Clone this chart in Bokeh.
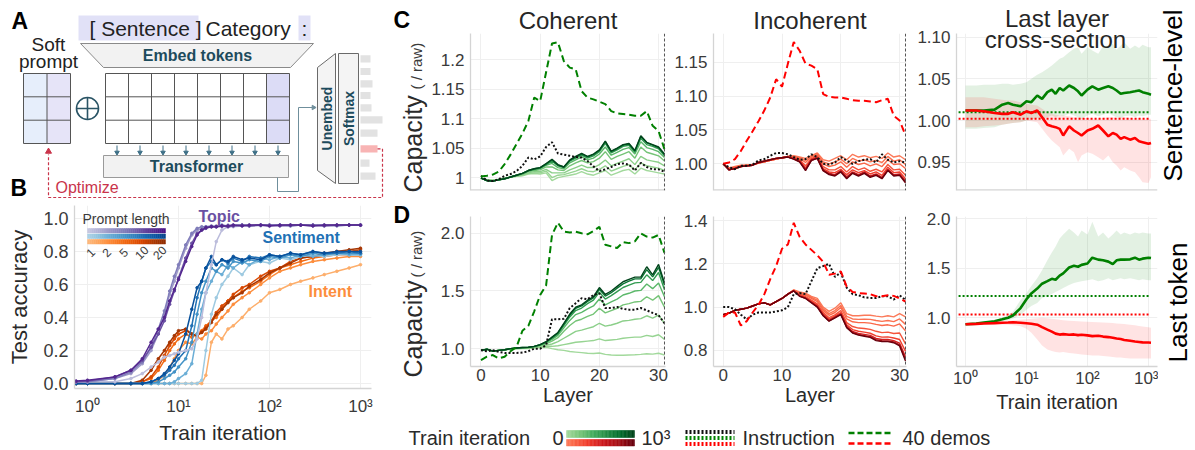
import math
from bokeh.plotting import figure
from bokeh.layouts import row, column
from bokeh.models import (Range1d, FixedTicker, CustomJSTickFormatter,
                          NumeralTickFormatter, Span, Label)
from bokeh.palettes import (Greens256, Reds256, Purples256, Blues256,
                            Oranges256, Purples9, Blues9, Oranges9)
from bokeh.embed import file_html
from bokeh.resources import INLINE

# ----------------------------------------------------------------------------
# Data
# ----------------------------------------------------------------------------
PROMPT_LENGTHS = [1, 2, 5, 10, 20]
B_ITERS = [0.75, 1, 2, 3, 4, 5, 6, 7, 8, 9, 10, 12, 14, 16, 18, 20, 23, 26, 30,
           35, 40, 50, 60, 80, 100, 130, 170, 220, 300, 400, 550, 750, 1000]

TOPIC_ACC = {
    1: [0.01, 0.01, 0.01, 0.03, 0.06, 0.10, 0.13, 0.16, 0.17, 0.18,
        0.19, 0.20, 0.21, 0.27, 0.40, 0.55, 0.72, 0.86, 0.93, 0.95,
        0.95, 0.955, 0.96, 0.955, 0.96, 0.96, 0.955, 0.96, 0.96, 0.955,
        0.96, 0.96, 0.96],
    2: [0.01, 0.01, 0.03, 0.06, 0.12, 0.20, 0.30, 0.42, 0.54, 0.62,
        0.70, 0.82, 0.90, 0.93, 0.94, 0.95, 0.95, 0.955, 0.95, 0.96,
        0.955, 0.96, 0.96, 0.96, 0.955, 0.96, 0.96, 0.96, 0.955, 0.96,
        0.96, 0.96, 0.96],
    5: [0.01, 0.01, 0.03, 0.07, 0.13, 0.22, 0.33, 0.44, 0.56, 0.65,
        0.72, 0.84, 0.91, 0.94, 0.95, 0.95, 0.955, 0.95, 0.96, 0.955,
        0.96, 0.96, 0.955, 0.96, 0.96, 0.96, 0.955, 0.96, 0.96, 0.96,
        0.955, 0.96, 0.96],
    10: [0.01, 0.015, 0.04, 0.08, 0.14, 0.22, 0.30, 0.38, 0.48, 0.56,
         0.64, 0.76, 0.85, 0.91, 0.93, 0.94, 0.95, 0.95, 0.955, 0.95,
         0.955, 0.96, 0.955, 0.96, 0.96, 0.955, 0.96, 0.96, 0.96, 0.955,
         0.96, 0.96, 0.96],
    20: [0.015, 0.02, 0.04, 0.08, 0.15, 0.25, 0.33, 0.40, 0.50, 0.57,
         0.63, 0.74, 0.83, 0.90, 0.93, 0.945, 0.95, 0.95, 0.955, 0.955,
         0.96, 0.955, 0.96, 0.96, 0.955, 0.96, 0.96, 0.96, 0.955, 0.96,
         0.96, 0.96, 0.96],
}
SENTIMENT_ACC = {
    1: [0, 0, 0, 0, 0, 0, 0, 0, 0, 0,
        0, 0, 0, 0, 0.02, 0.20, 0.42, 0.52, 0.60, 0.65,
        0.70, 0.66, 0.72, 0.74, 0.73, 0.76, 0.75, 0.77, 0.78, 0.77,
        0.78, 0.78, 0.78],
    2: [0, 0, 0, 0, 0, 0, 0, 0, 0, 0.01,
        0.03, 0.06, 0.12, 0.30, 0.45, 0.55, 0.62, 0.68, 0.66, 0.72,
        0.70, 0.74, 0.72, 0.76, 0.75, 0.77, 0.76, 0.78, 0.77, 0.78,
        0.79, 0.78, 0.78],
    5: [0, 0, 0, 0, 0, 0, 0.01, 0.03, 0.05, 0.07,
        0.10, 0.15, 0.25, 0.42, 0.55, 0.62, 0.70, 0.68, 0.72, 0.70,
        0.74, 0.73, 0.75, 0.74, 0.77, 0.76, 0.78, 0.77, 0.79, 0.78,
        0.79, 0.79, 0.79],
    10: [0, 0, 0, 0, 0, 0.01, 0.03, 0.05, 0.08, 0.11,
         0.15, 0.20, 0.35, 0.52, 0.62, 0.70, 0.74, 0.72, 0.75, 0.73,
         0.76, 0.74, 0.77, 0.76, 0.78, 0.77, 0.79, 0.78, 0.80, 0.79,
         0.79, 0.80, 0.79],
    20: [0, 0, 0, 0, 0, 0.01, 0.03, 0.06, 0.10, 0.14,
         0.18, 0.30, 0.45, 0.58, 0.62, 0.70, 0.77, 0.72, 0.75, 0.74,
         0.77, 0.75, 0.76, 0.75, 0.78, 0.77, 0.79, 0.78, 0.80, 0.79,
         0.80, 0.80, 0.80],
}
INTENT_ACC = {
    1: [0, 0, 0, 0, 0, 0, 0, 0, 0, 0,
        0, 0, 0, 0, 0, 0.05, 0.25, 0.30, 0.27, 0.33,
        0.35, 0.40, 0.45, 0.50, 0.55, 0.57, 0.60, 0.62, 0.64, 0.66,
        0.68, 0.70, 0.72],
    2: [0, 0, 0, 0, 0, 0.005, 0.02, 0.05, 0.10, 0.15,
        0.20, 0.25, 0.24, 0.28, 0.27, 0.30, 0.32, 0.36, 0.40, 0.44,
        0.48, 0.52, 0.55, 0.60, 0.64, 0.68, 0.70, 0.72, 0.74, 0.75,
        0.76, 0.77, 0.77],
    5: [0, 0, 0, 0, 0.01, 0.03, 0.08, 0.14, 0.20, 0.24,
        0.27, 0.30, 0.28, 0.30, 0.32, 0.35, 0.38, 0.40, 0.45, 0.50,
        0.52, 0.56, 0.58, 0.62, 0.66, 0.70, 0.72, 0.74, 0.76, 0.77,
        0.78, 0.78, 0.79],
    10: [0, 0, 0, 0, 0.01, 0.04, 0.10, 0.17, 0.23, 0.27,
         0.30, 0.32, 0.30, 0.29, 0.31, 0.34, 0.38, 0.43, 0.47, 0.50,
         0.54, 0.58, 0.60, 0.65, 0.68, 0.70, 0.74, 0.76, 0.77, 0.79,
         0.80, 0.80, 0.81],
    20: [0, 0, 0, 0, 0.02, 0.08, 0.15, 0.20, 0.25, 0.29,
         0.32, 0.33, 0.30, 0.29, 0.31, 0.33, 0.37, 0.42, 0.45, 0.49,
         0.52, 0.55, 0.59, 0.63, 0.67, 0.70, 0.73, 0.76, 0.77, 0.78,
         0.80, 0.81, 0.82],
}

LAYERS = list(range(32))
BUNDLE_ITERS = [0, 50, 100, 200, 300, 500, 750, 1000]

# Sentence-level capacity per layer, one row per training checkpoint
C_COH_BUNDLE = [
    [0.999, 0.996, 0.995, 0.997, 0.999, 1.001, 1.002, 1.003, 1.006, 1.007, 1.006, 1.008, 0.995, 1.000, 1.002, 1.004,
     1.006, 1.010, 1.006, 1.004, 1.008, 1.012, 1.004, 1.008, 1.012, 1.014, 1.006, 1.016, 1.012, 1.010, 1.008, 1.006],
    [0.999, 0.996, 0.995, 0.997, 0.999, 1.001, 1.002, 1.004, 1.007, 1.008, 1.008, 1.011, 1.000, 1.004, 1.005, 1.008,
     1.011, 1.015, 1.011, 1.010, 1.014, 1.020, 1.011, 1.015, 1.019, 1.022, 1.013, 1.025, 1.020, 1.018, 1.016, 1.012],
    [0.999, 0.996, 0.995, 0.997, 0.999, 1.001, 1.003, 1.005, 1.008, 1.010, 1.010, 1.014, 1.008, 1.008, 1.008, 1.013,
     1.017, 1.021, 1.017, 1.017, 1.022, 1.030, 1.020, 1.024, 1.028, 1.032, 1.022, 1.036, 1.030, 1.028, 1.026, 1.020],
    [0.999, 0.995, 0.995, 0.996, 0.998, 1.001, 1.003, 1.006, 1.010, 1.012, 1.013, 1.018, 1.018, 1.013, 1.012, 1.020,
     1.025, 1.029, 1.025, 1.027, 1.033, 1.044, 1.031, 1.036, 1.040, 1.044, 1.033, 1.052, 1.043, 1.040, 1.037, 1.028],
    [0.999, 0.995, 0.994, 0.996, 0.998, 1.001, 1.004, 1.006, 1.011, 1.013, 1.015, 1.021, 1.024, 1.017, 1.015, 1.025,
     1.030, 1.035, 1.030, 1.033, 1.040, 1.052, 1.038, 1.043, 1.048, 1.051, 1.040, 1.061, 1.051, 1.048, 1.044, 1.034],
    [0.999, 0.995, 0.994, 0.996, 0.998, 1.001, 1.004, 1.007, 1.012, 1.014, 1.016, 1.022, 1.028, 1.020, 1.017, 1.028,
     1.033, 1.038, 1.033, 1.037, 1.044, 1.058, 1.042, 1.047, 1.053, 1.055, 1.043, 1.067, 1.056, 1.053, 1.049, 1.037],
    [0.999, 0.995, 0.994, 0.996, 0.998, 1.001, 1.004, 1.007, 1.012, 1.015, 1.017, 1.023, 1.030, 1.021, 1.018, 1.029,
     1.035, 1.040, 1.035, 1.039, 1.046, 1.061, 1.044, 1.049, 1.055, 1.057, 1.045, 1.070, 1.059, 1.055, 1.051, 1.039],
    [0.999, 0.995, 0.994, 0.996, 0.998, 1.001, 1.004, 1.007, 1.012, 1.015, 1.017, 1.024, 1.031, 1.022, 1.018, 1.030,
     1.036, 1.041, 1.036, 1.040, 1.047, 1.062, 1.045, 1.050, 1.056, 1.058, 1.046, 1.071, 1.060, 1.056, 1.052, 1.040],
]
C_INC_BUNDLE = [
    [1.000, 0.994, 0.996, 0.998, 0.998, 0.999, 1.001, 1.003, 1.005, 1.007, 1.009, 1.011, 1.012, 1.010, 1.008, 1.012,
     1.016, 1.006, 1.004, 1.008, 1.012, 1.006, 1.014, 1.010, 1.012, 1.009, 1.011, 1.008, 1.016, 1.010, 1.012, 1.006],
    [1.000, 0.993, 0.995, 0.997, 0.998, 0.999, 1.001, 1.003, 1.005, 1.007, 1.009, 1.011, 1.011, 1.009, 1.005, 1.011,
     1.015, 1.003, 1.000, 1.003, 1.007, 1.000, 1.008, 1.004, 1.006, 1.003, 1.005, 1.002, 1.011, 1.004, 1.006, 0.999],
    [1.000, 0.993, 0.995, 0.997, 0.998, 0.999, 1.001, 1.003, 1.005, 1.007, 1.009, 1.011, 1.010, 1.008, 1.002, 1.010,
     1.013, 1.000, 0.996, 0.998, 1.003, 0.995, 1.003, 0.999, 1.001, 0.997, 1.000, 0.996, 1.006, 0.999, 1.000, 0.993],
    [1.000, 0.992, 0.994, 0.996, 0.997, 0.998, 1.001, 1.003, 1.005, 1.007, 1.009, 1.010, 1.009, 1.006, 0.997, 1.008,
     1.011, 0.996, 0.991, 0.991, 0.996, 0.988, 0.996, 0.991, 0.994, 0.989, 0.992, 0.988, 0.999, 0.991, 0.992, 0.983],
    [1.000, 0.992, 0.994, 0.996, 0.997, 0.998, 1.002, 1.004, 1.006, 1.008, 1.009, 1.010, 1.008, 1.005, 0.994, 1.007,
     1.010, 0.993, 0.988, 0.987, 0.992, 0.984, 0.991, 0.987, 0.990, 0.985, 0.988, 0.983, 0.995, 0.987, 0.988, 0.978],
    [1.000, 0.991, 0.993, 0.996, 0.997, 0.998, 1.002, 1.004, 1.006, 1.008, 1.009, 1.010, 1.008, 1.004, 0.992, 1.006,
     1.009, 0.991, 0.986, 0.984, 0.990, 0.981, 0.988, 0.984, 0.988, 0.982, 0.985, 0.980, 0.992, 0.984, 0.985, 0.975],
    [1.000, 0.991, 0.993, 0.996, 0.997, 0.998, 1.002, 1.004, 1.006, 1.008, 1.009, 1.010, 1.007, 1.003, 0.991, 1.005,
     1.008, 0.990, 0.985, 0.983, 0.989, 0.979, 0.987, 0.983, 0.987, 0.981, 0.984, 0.979, 0.991, 0.983, 0.984, 0.973],
    [1.000, 0.991, 0.993, 0.996, 0.997, 0.998, 1.002, 1.004, 1.006, 1.008, 1.009, 1.010, 1.007, 1.003, 0.990, 1.005,
     1.008, 0.990, 0.984, 0.982, 0.988, 0.978, 0.986, 0.982, 0.986, 0.980, 0.983, 0.978, 0.990, 0.982, 0.983, 0.972],
]
# Last-token capacity per layer
D_COH_BUNDLE = [
    [0.985, 0.990, 0.980, 0.985, 0.990, 0.995, 0.998, 1.000, 1.000, 1.005, 1.010, 1.012, 1.000, 0.990, 0.985, 0.975,
     0.970, 0.965, 0.960, 0.958, 0.962, 0.950, 0.945, 0.942, 0.943, 0.945, 0.947, 0.950, 0.955, 0.952, 0.960, 0.945],
    [0.985, 0.992, 0.980, 0.985, 0.990, 0.996, 1.000, 1.002, 1.004, 1.010, 1.015, 1.020, 1.020, 1.025, 1.035, 1.045,
     1.055, 1.060, 1.065, 1.070, 1.085, 1.070, 1.075, 1.080, 1.090, 1.095, 1.100, 1.100, 1.115, 1.105, 1.120, 1.080],
    [0.985, 0.993, 0.979, 0.985, 0.990, 0.997, 1.002, 1.005, 1.007, 1.013, 1.022, 1.030, 1.040, 1.060, 1.090, 1.120,
     1.150, 1.160, 1.175, 1.190, 1.220, 1.195, 1.205, 1.220, 1.240, 1.245, 1.255, 1.260, 1.285, 1.265, 1.290, 1.220],
    [0.985, 0.994, 0.978, 0.985, 0.990, 0.998, 1.003, 1.007, 1.009, 1.016, 1.028, 1.042, 1.065, 1.095, 1.150, 1.200,
     1.240, 1.255, 1.280, 1.300, 1.350, 1.310, 1.330, 1.350, 1.380, 1.390, 1.405, 1.410, 1.450, 1.420, 1.460, 1.360],
    [0.985, 0.995, 0.978, 0.985, 0.990, 0.999, 1.004, 1.008, 1.010, 1.018, 1.031, 1.050, 1.080, 1.115, 1.180, 1.245,
     1.295, 1.315, 1.345, 1.370, 1.430, 1.380, 1.405, 1.430, 1.465, 1.480, 1.500, 1.505, 1.560, 1.520, 1.570, 1.450],
    [0.985, 0.995, 0.978, 0.985, 0.990, 1.000, 1.005, 1.009, 1.011, 1.019, 1.033, 1.055, 1.090, 1.128, 1.200, 1.275,
     1.330, 1.352, 1.390, 1.420, 1.490, 1.430, 1.460, 1.495, 1.530, 1.550, 1.570, 1.575, 1.640, 1.590, 1.660, 1.510],
    [0.985, 0.995, 0.978, 0.985, 0.990, 1.000, 1.005, 1.010, 1.012, 1.020, 1.034, 1.058, 1.096, 1.136, 1.212, 1.290,
     1.350, 1.370, 1.410, 1.440, 1.515, 1.455, 1.485, 1.525, 1.562, 1.585, 1.605, 1.605, 1.685, 1.622, 1.705, 1.550],
    [0.985, 0.995, 0.978, 0.985, 0.990, 1.000, 1.005, 1.010, 1.012, 1.020, 1.035, 1.060, 1.100, 1.140, 1.220, 1.300,
     1.360, 1.380, 1.420, 1.450, 1.530, 1.470, 1.500, 1.540, 1.580, 1.600, 1.620, 1.620, 1.710, 1.640, 1.730, 1.570],
]
D_INC_BUNDLE = [
    [0.965, 0.972, 0.985, 0.990, 0.995, 1.005, 1.015, 1.020, 1.010, 1.025, 1.040, 1.060, 1.080, 1.070, 1.065, 1.050,
     1.040, 1.000, 0.980, 0.995, 1.020, 0.970, 0.960, 0.960, 0.962, 0.962, 0.958, 0.955, 0.960, 0.955, 0.970, 0.955],
    [0.965, 0.972, 0.985, 0.990, 0.995, 1.005, 1.015, 1.020, 1.010, 1.025, 1.040, 1.060, 1.079, 1.067, 1.060, 1.045,
     1.032, 0.992, 0.970, 0.984, 1.008, 0.957, 0.945, 0.943, 0.944, 0.943, 0.938, 0.934, 0.938, 0.933, 0.945, 0.920],
    [0.965, 0.972, 0.985, 0.990, 0.995, 1.005, 1.015, 1.020, 1.010, 1.025, 1.040, 1.060, 1.078, 1.064, 1.055, 1.040,
     1.025, 0.985, 0.962, 0.975, 0.998, 0.945, 0.932, 0.928, 0.928, 0.926, 0.920, 0.915, 0.918, 0.912, 0.922, 0.890],
    [0.965, 0.972, 0.985, 0.990, 0.995, 1.005, 1.015, 1.020, 1.010, 1.025, 1.040, 1.060, 1.077, 1.059, 1.049, 1.032,
     1.015, 0.976, 0.951, 0.964, 0.984, 0.928, 0.910, 0.903, 0.901, 0.897, 0.888, 0.882, 0.884, 0.878, 0.880, 0.830],
    [0.965, 0.972, 0.985, 0.990, 0.995, 1.005, 1.015, 1.020, 1.010, 1.025, 1.040, 1.060, 1.076, 1.055, 1.045, 1.027,
     1.009, 0.969, 0.944, 0.958, 0.975, 0.918, 0.896, 0.888, 0.884, 0.879, 0.867, 0.861, 0.862, 0.857, 0.850, 0.795],
    [0.965, 0.972, 0.985, 0.990, 0.995, 1.005, 1.015, 1.020, 1.010, 1.025, 1.040, 1.060, 1.076, 1.052, 1.042, 1.023,
     1.004, 0.964, 0.939, 0.954, 0.970, 0.911, 0.887, 0.878, 0.874, 0.869, 0.855, 0.850, 0.850, 0.845, 0.833, 0.770],
    [0.965, 0.972, 0.985, 0.990, 0.995, 1.005, 1.015, 1.020, 1.010, 1.025, 1.040, 1.060, 1.075, 1.051, 1.041, 1.021,
     1.001, 0.961, 0.936, 0.951, 0.967, 0.907, 0.882, 0.873, 0.868, 0.863, 0.849, 0.844, 0.843, 0.839, 0.825, 0.758],
    [0.965, 0.972, 0.985, 0.990, 0.995, 1.005, 1.015, 1.020, 1.010, 1.025, 1.040, 1.060, 1.075, 1.050, 1.040, 1.020,
     1.000, 0.960, 0.935, 0.950, 0.965, 0.905, 0.880, 0.870, 0.865, 0.860, 0.845, 0.840, 0.840, 0.835, 0.820, 0.750],
]

# Reference prompts: instruction (dotted) and 40 demonstrations (dashed)
C_COH_INSTR = [1.003, 0.995, 0.994, 0.997, 1.003, 1.006, 1.011, 1.020, 1.034, 1.031, 1.036, 1.052, 1.060, 1.041, 1.039,
               1.037, 1.035, 1.034, 1.028, 1.019, 1.011, 1.014, 1.018, 1.023, 1.024, 1.022, 1.012, 1.025, 1.018, 1.014,
               1.014, 1.010]
C_COH_DEMOS = [1.002, 1.003, 1.005, 1.010, 1.023, 1.039, 1.057, 1.075, 1.096, 1.136, 1.130, 1.179, 1.228, 1.230, 1.198,
               1.187, 1.184, 1.147, 1.136, 1.133, 1.129, 1.125, 1.113, 1.109, 1.108, 1.107, 1.105, 1.105, 1.113, 1.088,
               1.079, 1.048]
C_INC_INSTR = [1.000, 0.995, 0.992, 0.997, 0.997, 0.999, 1.005, 1.007, 1.012, 1.016, 1.016, 1.014, 1.010, 1.006, 1.007,
               1.014, 1.010, 1.000, 0.999, 1.002, 1.010, 1.005, 1.000, 1.004, 1.006, 1.007, 1.002, 1.014, 1.006, 1.002,
               1.004, 1.002]
C_INC_DEMOS = [1.000, 1.002, 1.007, 1.019, 1.034, 1.048, 1.063, 1.079, 1.098, 1.125, 1.114, 1.148, 1.180, 1.167, 1.148,
               1.145, 1.140, 1.103, 1.099, 1.098, 1.098, 1.096, 1.094, 1.093, 1.093, 1.092, 1.091, 1.094, 1.096, 1.071,
               1.064, 1.042]
D_COH_INSTR = [0.986, 0.977, 0.986, 0.972, 0.963, 0.963, 0.963, 0.966, 0.977, 1.000, 1.000, 1.030, 1.254, 1.254, 1.259,
               1.352, 1.394, 1.437, 1.428, 1.465, 1.479, 1.352, 1.352, 1.361, 1.344, 1.338, 1.338, 1.352, 1.332, 1.310,
               1.290, 1.220]
D_COH_DEMOS = [0.901, 0.930, 0.944, 0.915, 0.930, 0.977, 1.014, 1.155, 1.197, 1.324, 1.465, 1.549, 1.986, 2.093, 2.014,
               2.008, 2.014, 2.000, 1.992, 2.020, 2.056, 1.901, 1.887, 1.873, 1.924, 1.915, 1.930, 2.000, 1.972, 1.963,
               1.986, 1.831]
D_INC_INSTR = [1.000, 1.000, 0.990, 0.965, 0.943, 0.965, 0.975, 0.975, 0.975, 0.980, 0.985, 1.000, 1.060, 1.065, 1.060,
               1.120, 1.180, 1.190, 1.200, 1.140, 1.160, 1.090, 1.060, 1.055, 1.045, 1.042, 1.042, 1.050, 1.050, 1.035,
               1.055, 1.033]
D_INC_DEMOS = [0.955, 0.975, 0.975, 0.915, 0.935, 0.975, 1.010, 1.060, 1.130, 1.190, 1.270, 1.290, 1.390, 1.325, 1.290,
               1.265, 1.240, 1.210, 1.150, 1.155, 1.165, 1.095, 1.070, 1.065, 1.063, 1.060, 1.050, 1.050, 1.055, 1.052,
               1.040, 1.025]

# Last-layer cross-section over training (mean with spread)
XS_ITERS = [1, 1.5, 2, 3, 4, 5, 6, 8, 10, 12, 15, 18, 22, 26, 30, 35, 40, 50, 60, 70,
            80, 100, 120, 150, 180, 220, 260, 300, 350, 400, 500, 600, 700, 800, 1000, 1100]
SENT_COH_MEAN = [1.012, 1.012, 1.012, 1.013, 1.019, 1.021, 1.019, 1.017, 1.023, 1.022, 1.030, 1.026, 1.034, 1.037,
                 1.032, 1.039, 1.036, 1.042, 1.039, 1.035, 1.030, 1.037, 1.041, 1.037, 1.039, 1.041, 1.039, 1.036,
                 1.032, 1.033, 1.034, 1.035, 1.036, 1.034, 1.032, 1.031]
SENT_COH_HI = [1.042, 1.042, 1.043, 1.043, 1.044, 1.044, 1.043, 1.044, 1.046, 1.050, 1.055, 1.058, 1.062, 1.066, 1.070,
               1.074, 1.076, 1.082, 1.086, 1.088, 1.080, 1.088, 1.084, 1.080, 1.089, 1.090, 1.092, 1.085, 1.090, 1.094,
               1.086, 1.090, 1.087, 1.091, 1.088, 1.088]
SENT_COH_LO = [0.990, 0.990, 0.991, 0.992, 0.995, 0.996, 0.997, 0.998, 1.000, 1.001, 1.003, 1.002, 1.004, 1.006, 1.004,
               1.006, 1.005, 1.008, 1.006, 1.004, 1.002, 1.006, 1.008, 1.005, 1.007, 1.009, 1.006, 1.004, 1.003, 1.005,
               1.006, 1.004, 1.006, 1.005, 1.007, 1.007]
SENT_INC_MEAN = [1.012, 1.012, 1.011, 1.009, 1.008, 1.008, 1.010, 1.007, 1.011, 1.009, 1.012, 1.004, 0.995, 0.993,
                 0.992, 0.990, 0.982, 0.993, 0.988, 0.985, 0.982, 0.988, 0.990, 0.994, 0.988, 0.981, 0.985, 0.983,
                 0.978, 0.980, 0.977, 0.979, 0.975, 0.974, 0.972, 0.973]
SENT_INC_HI = [1.028, 1.028, 1.028, 1.026, 1.025, 1.024, 1.024, 1.022, 1.020, 1.019, 1.018, 1.014, 1.010, 1.008, 1.007,
               1.006, 1.006, 1.005, 1.004, 1.004, 1.003, 1.003, 1.002, 1.002, 1.003, 1.004, 1.004, 1.003, 1.004, 1.004,
               1.003, 1.002, 1.003, 1.002, 1.002, 1.002]
SENT_INC_LO = [0.992, 0.992, 0.993, 0.994, 0.995, 0.996, 0.997, 0.998, 1.000, 0.999, 0.998, 0.990, 0.982, 0.976, 0.972,
               0.968, 0.958, 0.966, 0.962, 0.950, 0.958, 0.962, 0.960, 0.956, 0.952, 0.958, 0.950, 0.946, 0.940, 0.944,
               0.940, 0.938, 0.932, 0.926, 0.925, 0.932]
TOK_COH_MEAN = [0.934, 0.941, 0.951, 0.964, 0.984, 1.000, 1.023, 1.098, 1.187, 1.246, 1.295, 1.344, 1.370, 1.393,
                1.384, 1.426, 1.449, 1.508, 1.525, 1.515, 1.534, 1.548, 1.607, 1.587, 1.580, 1.567, 1.541, 1.580,
                1.587, 1.587, 1.590, 1.607, 1.587, 1.597, 1.607, 1.603]
TOK_COH_HI = [0.940, 0.945, 0.955, 0.975, 1.000, 1.030, 1.060, 1.180, 1.250, 1.320, 1.400, 1.480, 1.580, 1.660, 1.720,
              1.800, 1.840, 1.900, 1.860, 1.820, 1.880, 1.840, 1.970, 1.820, 1.860, 1.800, 1.840, 1.880, 1.840, 1.860,
              1.840, 1.860, 1.850, 1.860, 1.850, 1.850]
TOK_COH_LO = [0.930, 0.937, 0.945, 0.955, 0.965, 0.975, 0.990, 1.030, 1.080, 1.120, 1.150, 1.200, 1.220, 1.240, 1.260,
              1.280, 1.300, 1.330, 1.350, 1.360, 1.370, 1.380, 1.390, 1.370, 1.380, 1.400, 1.380, 1.390, 1.400, 1.390,
              1.400, 1.390, 1.380, 1.390, 1.380, 1.380]
TOK_INC_MEAN = [0.934, 0.938, 0.942, 0.946, 0.950, 0.952, 0.955, 0.950, 0.945, 0.940, 0.930, 0.905, 0.880, 0.860,
                0.840, 0.830, 0.835, 0.828, 0.832, 0.825, 0.828, 0.822, 0.815, 0.818, 0.810, 0.805, 0.798, 0.790,
                0.785, 0.776, 0.768, 0.760, 0.756, 0.752, 0.750, 0.748]
TOK_INC_HI = [0.940, 0.945, 0.950, 0.960, 0.965, 0.970, 0.975, 0.980, 0.985, 0.990, 0.995, 1.000, 0.995, 0.990, 0.985,
              0.980, 0.975, 0.970, 0.968, 0.965, 0.963, 0.960, 0.958, 0.955, 0.952, 0.950, 0.947, 0.943, 0.940, 0.936,
              0.930, 0.925, 0.918, 0.912, 0.905, 0.900]
TOK_INC_LO = [0.930, 0.932, 0.935, 0.935, 0.932, 0.930, 0.925, 0.915, 0.890, 0.850, 0.780, 0.720, 0.680, 0.665, 0.655,
              0.650, 0.655, 0.645, 0.640, 0.635, 0.630, 0.625, 0.620, 0.620, 0.615, 0.610, 0.605, 0.600, 0.598, 0.595,
              0.590, 0.590, 0.588, 0.590, 0.590, 0.590]

# Output distribution sketched next to the softmax block
SOFTMAX_PROBS = [0.10, 0.10, 0.12, 0.10, 0.11, 0.22, 0.17, 0.17, 0.09, 0.15]
TARGET_TOKEN = 7

# ----------------------------------------------------------------------------
# Styling helpers
# ----------------------------------------------------------------------------
FONT = "Liberation Sans"
TICK_INK = "#3a3a3a"
INK = "#2a2a2a"
GREEN = "#008000"
RED = "#ff0000"
GRID = "#efefef"
AXIS = "#d4d4d4"
MID = 0.347   # distance from baseline to the middle of the em box, in em


class Frame:
    """Page-pixel box of a plotting area together with its data ranges."""

    def __init__(self, left, right, top, bottom, xr, yr, xlog=False):
        self.l, self.r, self.t, self.b = left, right, top, bottom
        self.xr, self.yr, self.xlog = xr, yr, xlog

    def x(self, px):
        f = (px - self.l) / (self.r - self.l)
        if self.xlog:
            a, b = math.log10(self.xr[0]), math.log10(self.xr[1])
            return 10 ** (a + f * (b - a))
        return self.xr[0] + f * (self.xr[1] - self.xr[0])

    def y(self, py):
        f = (self.b - py) / (self.b - self.t)
        return self.yr[0] + f * (self.yr[1] - self.yr[0])


def panel(fr, fig_x, fig_y, w, h, title=None, title_standoff=0, title_offset=0):
    p = figure(width=w, height=h,
               x_range=Range1d(*fr.xr), y_range=Range1d(*fr.yr),
               x_axis_type="log" if fr.xlog else "linear",
               output_backend="svg", toolbar_location=None, title=title,
               min_border_left=int(round(fr.l - fig_x)),
               min_border_right=int(round(fig_x + w - fr.r)),
               min_border_top=int(round(fr.t - fig_y)),
               min_border_bottom=int(round(fig_y + h - fr.b)))
    p.outline_line_color = None
    if title:
        p.title.text_font = FONT
        p.title.text_font_size = "24px"
        p.title.text_font_style = "normal"
        p.title.text_color = "#262626"
        p.title.align = "center"
        p.title.standoff = title_standoff
        p.title.offset = title_offset
    return p


def sup_formatter():
    return CustomJSTickFormatter(code="""
        const sup = ["\u2070", "\u00b9", "\u00b2", "\u00b3", "\u2074"];
        return "10" + sup[Math.round(Math.log10(tick))];
    """)


def style_axes(p, xticks, yticks, yfmt, xfmt=None, xlabels=True, xsize=17, ysize=17):
    for ax in (p.xaxis[0], p.yaxis[0]):
        ax.axis_line_color = AXIS
        ax.axis_line_width = 1.3
        ax.major_tick_line_color = None
        ax.minor_tick_line_color = None
        ax.major_tick_out = 0
        ax.major_tick_in = 0
        ax.minor_tick_out = 0
        ax.minor_tick_in = 0
        ax.major_label_text_font = FONT
        ax.major_label_text_color = TICK_INK
        ax.axis_label_text_font = FONT
        ax.axis_label_text_font_style = "normal"
        ax.axis_label_text_color = INK
    xt = FixedTicker(ticks=xticks)
    yt = FixedTicker(ticks=yticks)
    p.xaxis[0].ticker = xt
    p.yaxis[0].ticker = yt
    p.xgrid[0].ticker = xt
    p.ygrid[0].ticker = yt
    p.yaxis[0].formatter = yfmt
    if xfmt is not None:
        p.xaxis[0].formatter = xfmt
    p.xaxis[0].major_label_text_font_size = f"{xsize}px"
    p.yaxis[0].major_label_text_font_size = f"{ysize}px"
    p.yaxis[0].major_label_standoff = 6
    p.xaxis[0].major_label_standoff = 2
    if not xlabels:
        # no tick labels on the upper row: keep only the baseline of the frame
        p.xaxis[0].visible = False
        p.add_layout(Span(location=p.y_range.start, dimension="width",
                          line_color=AXIS, line_width=2.6))
    for g in (p.xgrid[0], p.ygrid[0]):
        g.grid_line_color = GRID
        g.grid_line_width = 1


def add_text(p, x, y, text, size, color=INK, bold=False, align="left",
             baseline="middle", angle=0.0):
    p.add_layout(Label(x=x, y=y, text=text, text_font=FONT,
                       text_font_size=f"{size}px", text_color=color,
                       text_font_style="bold" if bold else "normal",
                       text_align=align, text_baseline=baseline, angle=angle))


def canvas(w, h, x0, y0):
    """Plain drawing surface addressed in page pixels (y grows downward)."""
    p = figure(width=w, height=h, x_range=Range1d(x0, x0 + w),
               y_range=Range1d(y0 + h, y0), x_axis_location=None,
               y_axis_location=None, toolbar_location=None,
               output_backend="svg", title=None, min_border=0)
    p.outline_line_color = None
    p.xgrid.visible = False
    p.ygrid.visible = False
    return p


def mid(baseline, size):
    return baseline - MID * size


# ----------------------------------------------------------------------------
# A: soft-prompt schematic
# ----------------------------------------------------------------------------
TEAL = "#1d4b5c"
LAV = "#e1e1f7"
pA = canvas(390, 200, 0, 0)
add_text(pA, 11, mid(28, 23), "A", 23, "#000000", bold=True)

pA.quad(left=[78, 298], right=[198, 310], top=[15, 15], bottom=[40, 40],
        fill_color=LAV, line_color=None)
add_text(pA, 89, mid(35, 21), "[ Sentence ]", 21, "#222222")
add_text(pA, 205, mid(35, 21), "Category", 21, "#222222")
add_text(pA, 304, mid(35, 21), ":", 21, "#222222", align="center")

pA.patch([80, 313, 290, 103], [43, 43, 67, 67], fill_color="#f2f2f2",
         line_color="#8a8a8a", line_width=1)
add_text(pA, 197, 55, "Embed tokens", 16, TEAL, bold=True, align="center")

add_text(pA, 48, mid(51, 19), "Soft", 19, "#222222", align="center")
add_text(pA, 48, mid(68, 19), "prompt", 19, "#222222", align="center")

# soft prompt block (2 x 3)
pA.quad(left=[23, 46.5], right=[46.5, 70], top=[73, 73], bottom=[143, 143],
        fill_color=["#e6eefb", "#e6e4f8"], line_color=None)
pA.multi_line(xs=[[23, 70], [23, 70], [23, 70], [23, 70], [23, 23], [46.5, 46.5], [70, 70]],
              ys=[[73, 73], [96.3, 96.3], [119.7, 119.7], [143, 143], [73, 143], [73, 143], [73, 143]],
              line_color="#555555", line_width=1)

# concatenation symbol
pA.circle(x=[87], y=[108], radius=11, fill_color=None, line_color="#2b5566", line_width=1.6)
pA.multi_line(xs=[[76, 98], [87, 87]], ys=[[108, 108], [97, 119]], line_color="#2b5566", line_width=1.6)

# token embedding grid (8 x 3)
pA.quad(left=[266], right=[289], top=[73], bottom=[143], fill_color="#dcdcf6", line_color=None)
gx = [105 + 23 * i for i in range(9)]
gy = [73, 96.3, 119.7, 143]
pA.multi_line(xs=[[105, 289]] * 4 + [[x, x] for x in gx],
              ys=[[y, y] for y in gy] + [[73, 143]] * 9,
              line_color="#555555", line_width=1)
cx = [116.5 + 23 * i for i in range(8)]
pA.multi_line(xs=[[x, x] for x in cx], ys=[[145, 151]] * 8, line_color="#3d6f86", line_width=1)
pA.scatter(x=cx, y=[152] * 8, marker="inverted_triangle", size=4.5, color="#3d6f86")

# transformer block
pA.quad(left=[103], right=[288], top=[155], bottom=[177], fill_color="#f2f2f2",
        line_color="#9a9a9a", line_width=1)
add_text(pA, 196, 166, "Transformer", 16, TEAL, bold=True, align="center")

# residual path to the unembedding
pA.line([277, 277, 298, 298, 312], [177, 191, 191, 107, 107], line_color="#6f8f9c", line_width=1)
pA.scatter(x=[313], y=[107], marker="triangle", angle=-math.pi / 2, size=4.5, color="#6f8f9c")

pA.patch([317, 335, 335, 317], [67, 53, 183, 170], fill_color="#f4f4f4",
         line_color="#6a6a6a", line_width=1)
add_text(pA, 326, 118, "Unembed", 14, TEAL, bold=True, align="center", angle=math.pi / 2)
pA.quad(left=[338], right=[358], top=[53], bottom=[183], fill_color="#f4f4f4",
        line_color="#6a6a6a", line_width=1)
add_text(pA, 348, 118, "Softmax", 14, TEAL, bold=True, align="center", angle=math.pi / 2)

rows_y = [58.3, 71, 83.3, 95, 107.3, 119.3, 132.7, 148.3, 162.7, 175.7]
pA.quad(left=[360] * len(SOFTMAX_PROBS),
        right=[360 + 100 * v for v in SOFTMAX_PROBS],
        top=[y - 3.6 for y in rows_y], bottom=[y + 3.6 for y in rows_y],
        fill_color=["#f8b4b4" if i == TARGET_TOKEN else "#e2e2e2" for i in range(len(SOFTMAX_PROBS))],
        line_color=None)

# optimisation loop back to the soft prompt
OPT = "#c9344a"
ty = rows_y[TARGET_TOKEN]
pA.line([360 + 100 * SOFTMAX_PROBS[TARGET_TOKEN], 382, 382, 48, 48],
        [ty, ty, 197, 197, 154], line_color=OPT, line_width=1.2, line_dash="3 2")
pA.scatter(x=[48], y=[151], marker="triangle", size=6, color=OPT)
add_text(pA, 55, mid(193, 16), "Optimize", 16, OPT)
add_text(pA, 10, 187, "B", 23, "#000000", bold=True)

# ----------------------------------------------------------------------------
# B: test accuracy during prompt tuning
# ----------------------------------------------------------------------------
DECADES = [1, 10, 100, 1000]
frB = Frame(74, 371, 205, 388, (0.7197, 1321), (-0.0303, 1.0788), xlog=True)
pB = panel(frB, 0, 200, 390, 250)
style_axes(pB, DECADES, [0, 0.2, 0.4, 0.6, 0.8, 1.0], NumeralTickFormatter(format="0.0"),
           sup_formatter(), xsize=17, ysize=18)
pB.xaxis[0].major_label_standoff = 8
pB.xaxis[0].axis_label = "Train iteration"
pB.xaxis[0].axis_label_text_font_size = "21px"
pB.xaxis[0].axis_label_standoff = 2
pB.yaxis[0].axis_label = "Test accuracy"
pB.yaxis[0].axis_label_text_font_size = "22px"
pB.yaxis[0].axis_label_standoff = 8

for series, pal in ((INTENT_ACC, Oranges9), (SENTIMENT_ACC, Blues9), (TOPIC_ACC, Purples9)):
    for k, n in enumerate(PROMPT_LENGTHS):
        c = pal[5 - k]
        pB.line(B_ITERS, series[n], line_color=c, line_width=1.5)
        pB.scatter(B_ITERS, series[n], size=2.6, color=c)

# prompt-length colour key
N = 40
lefts = [frB.x(87 + 78 * i / N) for i in range(N)]
rights = [frB.x(87 + 78 * (i + 1) / N) for i in range(N)]
for top, bot, pal, lo, hi in ((228, 232.5, Purples256, 170, 15),
                              (233.5, 238, Blues256, 170, 20),
                              (239, 243.5, Oranges256, 170, 15)):
    cols = [pal[int(round(lo + (hi - lo) * i / (N - 1)))] for i in range(N)]
    pB.quad(left=lefts, right=rights, top=frB.y(top), bottom=frB.y(bot),
            fill_color=cols, line_color=cols, line_width=0.5)
add_text(pB, frB.x(82), frB.y(mid(223, 14)), "Prompt length", 14, "#3a3a3a")
for txt, px in zip(["1", "2", "5", "10", "20"], [90, 106, 123, 141, 159]):
    add_text(pB, frB.x(px), frB.y(252), txt, 12, "#3a3a3a", align="center", angle=math.pi / 4)
add_text(pB, frB.x(198), frB.y(mid(222, 16)), "Topic", 16, "#6a51a3", bold=True)
add_text(pB, frB.x(262), frB.y(mid(243, 16)), "Sentiment", 16, "#2171b5", bold=True)
add_text(pB, frB.x(308), frB.y(mid(297, 16)), "Intent", 16, "#fd8d3c", bold=True)

# ----------------------------------------------------------------------------
# C / D: capacity by layer and last-layer cross-sections
# ----------------------------------------------------------------------------
def green_for(it):
    return Greens256[int(round(160 * (1 - it / 1000)))]


def red_for(it):
    return Reds256[int(round(140 * (1 - it / 1000)))]


def layer_panel(fr, fig_x, fig_y, w, h, bundle, colour_for, instr, demos, demo_colour,
                yticks, yfmt, xlabels, title=None, title_offset=0):
    p = panel(fr, fig_x, fig_y, w, h, title=title, title_offset=title_offset)
    style_axes(p, [0, 10, 20, 30], yticks, yfmt, xlabels=xlabels)
    for it, vals in zip(BUNDLE_ITERS, bundle):
        p.line(LAYERS, vals, line_color=colour_for(it), line_width=1.4)
    p.line(LAYERS, instr, line_color="#111111", line_width=2, line_dash="2 2")
    p.line(LAYERS, demos, line_color=demo_colour, line_width=2, line_dash="7 4")
    p.add_layout(Span(location=LAYERS[-1], dimension="height", line_color="#555555",
                      line_width=1, line_dash="3 2"))
    if xlabels:
        p.xaxis[0].axis_label = "Layer"
        p.xaxis[0].axis_label_text_font_size = "20px"
        p.xaxis[0].axis_label_standoff = 0
    return p


def cross_panel(fr, fig_x, fig_y, w, h, coh, inc, coh_ref, inc_ref, yticks, yfmt, xlabels,
                title=None, title_standoff=0):
    p = panel(fr, fig_x, fig_y, w, h, title=title, title_standoff=title_standoff)
    style_axes(p, DECADES, yticks, yfmt, sup_formatter(), xlabels=xlabels)
    p.varea(x=XS_ITERS, y1=coh[2], y2=coh[1], fill_color=GREEN, fill_alpha=0.11)
    p.varea(x=XS_ITERS, y1=inc[2], y2=inc[1], fill_color=RED, fill_alpha=0.11)
    p.line([0.77, 1070], [coh_ref, coh_ref], line_color=GREEN, line_width=2, line_dash="2 2")
    p.line([0.77, 1070], [inc_ref, inc_ref], line_color=RED, line_width=2, line_dash="2 2")
    p.line(XS_ITERS, coh[0], line_color=GREEN, line_width=2.6)
    p.line(XS_ITERS, inc[0], line_color=RED, line_width=2.6)
    if xlabels:
        p.xaxis[0].axis_label = "Train iteration"
        p.xaxis[0].axis_label_text_font_size = "20px"
        p.xaxis[0].axis_label_standoff = 0
    return p


trim = CustomJSTickFormatter(code="return parseFloat(tick.toFixed(2)).toString();")

frC1 = Frame(470, 665, 33, 190, (-1.77, 31.17), (0.978, 1.245))
frC2 = Frame(713, 906, 33, 190, (-1.65, 31.17), (0.9606, 1.1925))
frC3 = Frame(956, 1157, 33, 190, (0.712, 1406), (0.916, 1.1044), xlog=True)
frD1 = Frame(470, 665, 216, 370, (-1.77, 31.17), (0.845, 2.146))
frD2 = Frame(713, 906, 216, 370, (-1.65, 31.17), (0.725, 1.4195))
frD3 = Frame(956, 1157, 216, 370, (0.712, 1406), (0.508, 2.0226), xlog=True)

STRIP = 38     # width of the left label strip
RSTRIP = 37    # width of the right label strip
W3 = 1195 - RSTRIP - 912

pC1 = layer_panel(frC1, 390 + STRIP, 0, 278 - STRIP, 195, C_COH_BUNDLE, green_for, C_COH_INSTR, C_COH_DEMOS,
                  GREEN, [1.0, 1.05, 1.1, 1.15, 1.2], trim, False, title="Coherent", title_offset=-8)
pC2 = layer_panel(frC2, 668, 0, 244, 195, C_INC_BUNDLE, red_for, C_INC_INSTR, C_INC_DEMOS, RED,
                  [1.0, 1.05, 1.1, 1.15], NumeralTickFormatter(format="0.00"), False, title="Incoherent")
pC3 = cross_panel(frC3, 912, 0, W3, 195,
                  (SENT_COH_MEAN, SENT_COH_HI, SENT_COH_LO), (SENT_INC_MEAN, SENT_INC_HI, SENT_INC_LO),
                  C_COH_INSTR[-1], C_INC_INSTR[-1], [0.95, 1.0, 1.05, 1.1],
                  NumeralTickFormatter(format="0.00"), False, title="Last layer", title_standoff=3)
add_text(pC3, frC3.x(1055), frC3.y(mid(47, 24)), "cross-section", 24, "#262626", align="center")

pD1 = layer_panel(frD1, 390 + STRIP, 195, 278 - STRIP, 220, D_COH_BUNDLE, green_for, D_COH_INSTR, D_COH_DEMOS,
                  GREEN, [1.0, 1.5, 2.0], NumeralTickFormatter(format="0.0"), True)
pD2 = layer_panel(frD2, 668, 195, 244, 220, D_INC_BUNDLE, red_for, D_INC_INSTR, D_INC_DEMOS, RED,
                  [0.8, 1.0, 1.2, 1.4], NumeralTickFormatter(format="0.0"), True)
pD3 = cross_panel(frD3, 912, 195, W3, 220,
                  (TOK_COH_MEAN, TOK_COH_HI, TOK_COH_LO), (TOK_INC_MEAN, TOK_INC_HI, TOK_INC_LO),
                  D_COH_INSTR[-1], D_INC_INSTR[-1], [1.0, 1.5, 2.0],
                  NumeralTickFormatter(format="0.0"), True)

# left strip: panel letters and the shared y-axis title
pSL = canvas(STRIP, 415, 390, 0)
add_text(pSL, 393, mid(27, 23), "C", 23, "#000000", bold=True)
add_text(pSL, 393, mid(222, 23), "D", 23, "#000000", bold=True)
for y0, y1 in ((192, 89), (377, 277)):
    add_text(pSL, 421 - MID * 25, y0, "Capacity", 25, INK, angle=math.pi / 2)
    add_text(pSL, 421 - MID * 15, y1, "( / raw)", 15, "#3a3a3a", angle=math.pi / 2)

# right strip: row titles
x_strip = 1195 - RSTRIP
pSR = canvas(RSTRIP, 415, x_strip, 0)
add_text(pSR, x_strip + 14.8, 95, "Sentence-level", 26, "#000000", align="center", angle=math.pi / 2)
add_text(pSR, 1187 - MID * 26, 302, "Last token", 26, "#000000", align="center", angle=math.pi / 2)

# ----------------------------------------------------------------------------
# Shared key
# ----------------------------------------------------------------------------
pL = canvas(805, 35, 390, 415)
ky = mid(444, 20)
add_text(pL, 408, ky, "Train iteration", 20, INK)
add_text(pL, 552, ky, "0", 20, INK)
M = 50
bx0 = [566 + 68 * i / M for i in range(M)]
bx1 = [566 + 68 * (i + 1) / M for i in range(M)]
gcols = [Greens256[int(round(160 - 160 * i / (M - 1)))] for i in range(M)]
rcols = [Reds256[int(round(140 - 140 * i / (M - 1)))] for i in range(M)]
pL.quad(left=bx0, right=bx1, top=430, bottom=437, fill_color=gcols, line_color=gcols, line_width=0.5)
pL.quad(left=bx0, right=bx1, top=439, bottom=445.5, fill_color=rcols, line_color=rcols, line_width=0.5)
add_text(pL, 641, ky, "10\u00b3", 20, INK)
for yy, col in ((431.5, "#111111"), (437.5, GREEN), (443.5, RED)):
    pL.line([685, 734], [yy, yy], line_color=col, line_width=4, line_dash="2 2")
add_text(pL, 742, ky, "Instruction", 20, INK)
for yy, col in ((432.5, GREEN), (443, RED)):
    pL.line([848, 891], [yy, yy], line_color=col, line_width=2.5, line_dash="6 3")
add_text(pL, 902, ky, "40 demos", 20, INK)

left_col = column(row(pA), row(pB))
plots = column(row(pC1, pC2, pC3), row(pD1, pD2, pD3))
right_col = column(row(pSL, plots, pSR), row(pL))
layout = row(left_col, right_col)

with open("out.html", "w", encoding="utf-8") as fh:
    fh.write(file_html(layout, INLINE))
